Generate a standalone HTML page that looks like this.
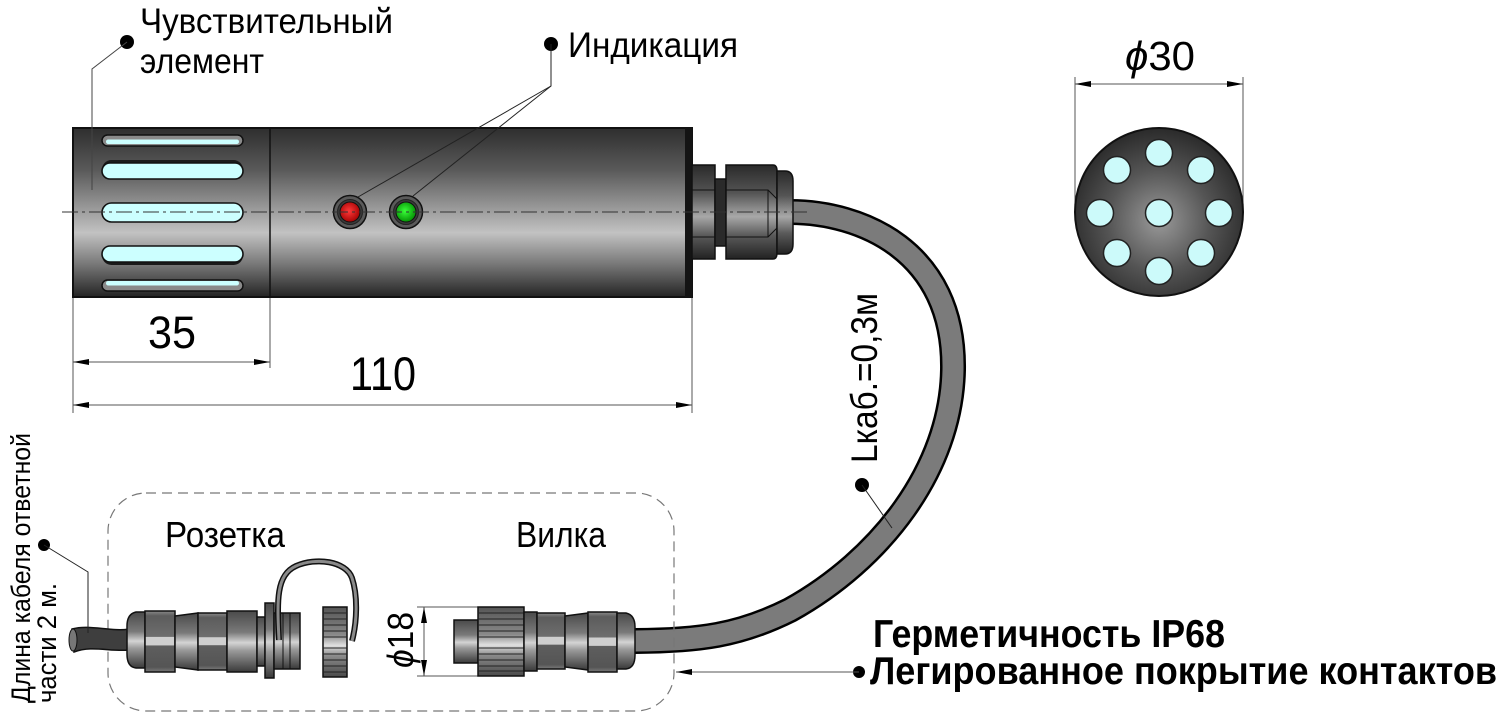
<!DOCTYPE html>
<html><head><meta charset="utf-8">
<style>
html,body{margin:0;padding:0;background:#fff;}
svg{display:block;}
text{font-family:"Liberation Sans","DejaVu Sans",sans-serif;fill:#000;}
.b{font-weight:bold;}
</style></head>
<body>
<svg width="1500" height="714" viewBox="0 0 1500 714" xmlns="http://www.w3.org/2000/svg">
<defs>
<linearGradient id="bodyG" x1="0" y1="0" x2="0" y2="1">
<stop offset="0" stop-color="#2e2e2e"/><stop offset="0.25" stop-color="#5a5a5a"/>
<stop offset="0.62" stop-color="#c2c2c2"/><stop offset="0.8" stop-color="#7a7a7a"/>
<stop offset="1" stop-color="#242424"/></linearGradient>
<linearGradient id="glandG" x1="0" y1="0" x2="0" y2="1">
<stop offset="0" stop-color="#2a2a2a"/><stop offset="0.3" stop-color="#555"/>
<stop offset="0.55" stop-color="#a8a8a8"/><stop offset="0.75" stop-color="#5a5a5a"/>
<stop offset="1" stop-color="#222"/></linearGradient>
<linearGradient id="cg" x1="0" y1="0" x2="0" y2="1">
<stop offset="0" stop-color="#4a4a4a"/><stop offset="0.35" stop-color="#7a7a7a"/>
<stop offset="0.52" stop-color="#d4d4d4"/><stop offset="0.65" stop-color="#9a9a9a"/>
<stop offset="1" stop-color="#3a3a3a"/></linearGradient>
<linearGradient id="nutG" x1="0" y1="0" x2="0" y2="1">
<stop offset="0" stop-color="#8a8a8a"/><stop offset="0.08" stop-color="#5c5c5c"/>
<stop offset="0.42" stop-color="#6e6e6e"/><stop offset="0.43" stop-color="#cfcfcf"/>
<stop offset="0.56" stop-color="#cfcfcf"/><stop offset="0.57" stop-color="#5e5e5e"/>
<stop offset="0.92" stop-color="#555"/><stop offset="1" stop-color="#7a7a7a"/></linearGradient>
<linearGradient id="knG" x1="0" y1="0" x2="0" y2="1">
<stop offset="0" stop-color="#555"/><stop offset="0.4" stop-color="#8a8a8a"/>
<stop offset="0.55" stop-color="#e0e0e0"/><stop offset="0.7" stop-color="#8a8a8a"/>
<stop offset="1" stop-color="#4a4a4a"/></linearGradient>
<radialGradient id="endG" cx="0.5" cy="0.55" r="0.55">
<stop offset="0" stop-color="#9a9a9a"/><stop offset="0.55" stop-color="#555"/>
<stop offset="1" stop-color="#2a2a2a"/></radialGradient>
<radialGradient id="redG" cx="0.45" cy="0.45" r="0.6">
<stop offset="0" stop-color="#ff3a3a"/><stop offset="1" stop-color="#a00000"/></radialGradient>
<radialGradient id="grnG" cx="0.45" cy="0.45" r="0.6">
<stop offset="0" stop-color="#3aff3a"/><stop offset="1" stop-color="#008a00"/></radialGradient>
</defs>

<!-- ===== Top labels ===== -->
<text x="140" y="33" font-size="35" textLength="253" lengthAdjust="spacingAndGlyphs">Чувствительный</text>
<text x="140" y="73" font-size="35" textLength="124" lengthAdjust="spacingAndGlyphs">элемент</text>
<text x="568" y="57" font-size="35" textLength="170" lengthAdjust="spacingAndGlyphs">Индикация</text>

<!-- ===== Cable (under gland) ===== -->
<path d="M790 212 C860 212, 955 250, 953 370 C951 470, 880 560, 790 610 C740 635, 700 641, 630 641" fill="none" stroke="#000" stroke-width="26"/>
<path d="M790 212 C860 212, 955 250, 953 370 C951 470, 880 560, 790 610 C740 635, 700 641, 630 641" fill="none" stroke="#7b7b7b" stroke-width="21"/>

<!-- ===== Main body ===== -->
<rect x="73" y="128" width="619" height="169" fill="url(#bodyG)" stroke="#111" stroke-width="2"/>
<rect x="685" y="128" width="7" height="169" fill="#141414"/>
<line x1="270" y1="128" x2="270" y2="297" stroke="#111" stroke-width="1.5"/>

<!-- slots -->
<rect x="102" y="135" width="141" height="11" rx="5.5" fill="#8a8a8a" stroke="#111" stroke-width="1.5"/>
<rect x="106" y="139.5" width="133" height="4.5" rx="2.2" fill="#ccffff"/>
<rect x="102" y="160" width="141" height="19" rx="9.5" fill="#1a1a1a"/>
<rect x="102" y="163" width="141" height="16" rx="8" fill="#ccffff" stroke="#111" stroke-width="1.6"/>
<rect x="102" y="203" width="141" height="19" rx="9.5" fill="#ccffff" stroke="#111" stroke-width="1.6"/>
<rect x="102" y="246" width="141" height="19" rx="9.5" fill="#1a1a1a"/>
<rect x="102" y="246" width="141" height="16" rx="8" fill="#ccffff" stroke="#111" stroke-width="1.6"/>
<rect x="102" y="280" width="141" height="11" rx="5.5" fill="#8a8a8a" stroke="#111" stroke-width="1.5"/>
<rect x="106" y="281" width="133" height="4.5" rx="2.2" fill="#ccffff"/>

<!-- LEDs -->
<circle cx="350" cy="212" r="16.5" fill="#5a5a5a" stroke="#111" stroke-width="1.5"/>
<circle cx="350" cy="212" r="12.5" fill="#3a3a3a" stroke="#222" stroke-width="1"/>
<circle cx="350" cy="212" r="10" fill="url(#redG)" stroke="#111" stroke-width="1"/>
<circle cx="406" cy="212" r="16.5" fill="#5a5a5a" stroke="#111" stroke-width="1.5"/>
<circle cx="406" cy="212" r="12.5" fill="#3a3a3a" stroke="#222" stroke-width="1"/>
<circle cx="406" cy="212" r="10" fill="url(#grnG)" stroke="#111" stroke-width="1"/>

<!-- gland -->
<rect x="692" y="165" width="23" height="94" fill="url(#glandG)" stroke="#111" stroke-width="1.5"/>
<line x1="692" y1="190" x2="715" y2="190" stroke="#111" stroke-width="1"/>
<line x1="692" y1="237" x2="715" y2="237" stroke="#111" stroke-width="1"/>
<rect x="715" y="179" width="11" height="67" fill="#2a2a2a" stroke="#111" stroke-width="1.5"/>
<path d="M726 165 H773 Q777 165 777 171 V253 Q777 259 773 259 H726 Z" fill="url(#glandG)" stroke="#111" stroke-width="1.5"/>
<polyline points="726,190 768,190 777,199" fill="none" stroke="#111" stroke-width="1"/>
<polyline points="726,237 768,237 777,228" fill="none" stroke="#111" stroke-width="1"/>
<line x1="768" y1="190" x2="768" y2="237" stroke="#111" stroke-width="1"/>
<path d="M777 171 H785 Q793 171 793 181 V244 Q793 254 785 254 H777 Z" fill="url(#glandG)" stroke="#111" stroke-width="1.5"/>

<!-- center line -->
<line x1="62" y1="212" x2="808" y2="212" stroke="#333" stroke-width="1" stroke-dasharray="16 4 3 4"/>

<!-- leaders (on top of body) -->
<circle cx="127" cy="42" r="7" fill="#000"/>
<polyline points="127,42 92,69 92,190" fill="none" stroke="#444" stroke-width="1"/>
<circle cx="551" cy="44" r="7" fill="#000"/>
<polyline points="551,44 551,86 358,197" fill="none" stroke="#222" stroke-width="1"/>
<line x1="551" y1="86" x2="413" y2="196" stroke="#222" stroke-width="1"/>

<!-- ===== Dimensions 35 / 110 ===== -->
<g stroke="#555" stroke-width="1">
<line x1="73" y1="298" x2="73" y2="413"/>
<line x1="270" y1="298" x2="270" y2="368"/>
<line x1="692" y1="298" x2="692" y2="413"/>
<line x1="73" y1="362" x2="270" y2="362"/>
<line x1="73" y1="405" x2="692" y2="405"/>
</g>
<g fill="#000">
<polygon points="73,362 89,359 89,365"/>
<polygon points="270,362 254,359 254,365"/>
<polygon points="73,405 89,402 89,408"/>
<polygon points="692,405 676,402 676,408"/>
</g>
<text x="148" y="348" font-size="45" textLength="48" lengthAdjust="spacingAndGlyphs">35</text>
<text x="350" y="390" font-size="47" textLength="66" lengthAdjust="spacingAndGlyphs">110</text>

<!-- ===== End view ϕ30 ===== -->
<g stroke="#555" stroke-width="1">
<line x1="1075" y1="77" x2="1075" y2="212"/>
<line x1="1243" y1="77" x2="1243" y2="212"/>
<line x1="1075" y1="84" x2="1243" y2="84"/>
</g>
<polygon points="1075,84 1091,81 1091,87" fill="#000"/>
<polygon points="1243,84 1227,81 1227,87" fill="#000"/>
<text x="1125" y="70" font-size="41" textLength="70" lengthAdjust="spacingAndGlyphs"><tspan font-style="italic">ϕ</tspan>30</text>
<circle cx="1159" cy="212" r="84" fill="url(#endG)" stroke="#111" stroke-width="2"/>
<g fill="#ccfafa" stroke="#222" stroke-width="1.5">
<circle cx="1159" cy="213" r="13.5"/>
<circle cx="1159" cy="153" r="13.5"/>
<circle cx="1159" cy="271" r="13.5"/>
<circle cx="1100" cy="213" r="13.5"/>
<circle cx="1219" cy="213" r="13.5"/>
<circle cx="1117" cy="170" r="13.5"/>
<circle cx="1201" cy="170" r="13.5"/>
<circle cx="1117" cy="253" r="13.5"/>
<circle cx="1201" cy="253" r="13.5"/>
</g>

<!-- ===== Cable length label ===== -->
<text transform="translate(877,463) rotate(-90)" font-size="37" textLength="170" lengthAdjust="spacingAndGlyphs">Lкаб.=0,3м</text>
<circle cx="862" cy="485" r="7" fill="#000"/>
<line x1="862" y1="485" x2="892" y2="528" stroke="#222" stroke-width="1"/>

<!-- ===== Dashed box ===== -->
<rect x="108" y="493" width="566" height="218" rx="38" ry="38" fill="none" stroke="#777" stroke-width="1.2" stroke-dasharray="10 6"/>
<text x="165" y="547" font-size="36" textLength="120" lengthAdjust="spacingAndGlyphs">Розетка</text>
<text x="516" y="547" font-size="36" textLength="90" lengthAdjust="spacingAndGlyphs">Вилка</text>

<!-- left cable -->
<path d="M72 629 C90 624, 110 632, 130 629 L130 650 C110 652, 92 645, 74 652 Z" fill="#3e3e3e" stroke="#111" stroke-width="1.5"/>
<ellipse cx="73" cy="640" rx="4" ry="11" fill="#777" stroke="#111" stroke-width="1"/>

<!-- socket -->
<path d="M145 612 L136 612 Q127 614 127 626 L127 654 Q127 667 136 668 L145 668 Z" fill="url(#cg)" stroke="#111" stroke-width="1.5"/>
<rect x="145" y="611" width="30" height="61" fill="url(#nutG)" stroke="#111" stroke-width="1.5"/>
<polygon points="175,616 198,613 198,670 175,667" fill="url(#cg)" stroke="#111" stroke-width="1.5"/>
<rect x="198" y="613" width="29" height="57" fill="url(#nutG)" stroke="#111" stroke-width="1.5"/>
<rect x="227" y="611" width="30" height="61" fill="url(#cg)" stroke="#111" stroke-width="1.5"/>
<rect x="257" y="617" width="8" height="49" fill="url(#cg)" stroke="#111" stroke-width="1.5"/>
<rect x="265" y="603" width="9" height="75" fill="url(#cg)" stroke="#111" stroke-width="1.5"/>
<rect x="274" y="613" width="26" height="56" fill="url(#cg)" stroke="#111" stroke-width="1.5"/>
<line x1="283" y1="613" x2="283" y2="669" stroke="#111" stroke-width="1"/>
<line x1="290" y1="613" x2="290" y2="669" stroke="#111" stroke-width="1"/>
<!-- strap -->
<path d="M279 640 C277 600, 276 575, 296 566 C316 557, 346 561, 352 578 C358 596, 357 622, 352 641" fill="none" stroke="#111" stroke-width="6"/>
<path d="M279 640 C277 600, 276 575, 296 566 C316 557, 346 561, 352 578 C358 596, 357 622, 352 641" fill="none" stroke="#8a8a8a" stroke-width="3"/>
<!-- cap -->
<rect x="323" y="607" width="24" height="70" fill="url(#knG)" stroke="#111" stroke-width="1.5"/>
<g stroke="#222" stroke-width="1">
<line x1="323" y1="613" x2="347" y2="613"/><line x1="323" y1="619" x2="347" y2="619"/>
<line x1="323" y1="625" x2="347" y2="625"/><line x1="323" y1="631" x2="347" y2="631"/>
<line x1="323" y1="637" x2="347" y2="637"/><line x1="323" y1="648" x2="347" y2="648"/>
<line x1="323" y1="654" x2="347" y2="654"/><line x1="323" y1="660" x2="347" y2="660"/>
<line x1="323" y1="666" x2="347" y2="666"/><line x1="323" y1="672" x2="347" y2="672"/>
</g>

<!-- ϕ18 dimension -->
<g stroke="#555" stroke-width="1">
<line x1="417" y1="607" x2="480" y2="607"/>
<line x1="417" y1="676" x2="480" y2="676"/>
<line x1="424" y1="607" x2="424" y2="676"/>
</g>
<polygon points="424,607 421,623 427,623" fill="#000"/>
<polygon points="424,676 421,660 427,660" fill="#000"/>
<text transform="translate(413,668) rotate(-90)" font-size="36" textLength="56" lengthAdjust="spacingAndGlyphs"><tspan font-style="italic">ϕ</tspan>18</text>

<!-- plug -->
<rect x="454" y="620" width="24" height="43" fill="url(#cg)" stroke="#111" stroke-width="1.5"/>
<rect x="478" y="607" width="46" height="69" fill="url(#knG)" stroke="#111" stroke-width="1.5"/>
<g stroke="#222" stroke-width="1">
<line x1="478" y1="613" x2="524" y2="613"/><line x1="478" y1="619" x2="524" y2="619"/>
<line x1="478" y1="625" x2="524" y2="625"/><line x1="478" y1="631" x2="524" y2="631"/>
<line x1="478" y1="637" x2="524" y2="637"/><line x1="478" y1="648" x2="524" y2="648"/>
<line x1="478" y1="654" x2="524" y2="654"/><line x1="478" y1="660" x2="524" y2="660"/>
<line x1="478" y1="666" x2="524" y2="666"/><line x1="478" y1="671" x2="524" y2="671"/>
</g>
<rect x="524" y="612" width="13" height="59" fill="url(#cg)" stroke="#111" stroke-width="1.5"/>
<rect x="537" y="613" width="28" height="56" fill="url(#nutG)" stroke="#111" stroke-width="1.5"/>
<polygon points="565,616 588,613 588,670 565,667" fill="url(#cg)" stroke="#111" stroke-width="1.5"/>
<rect x="588" y="612" width="29" height="60" fill="url(#nutG)" stroke="#111" stroke-width="1.5"/>
<path d="M617 613 L626 613 Q635 615 635 627 L635 655 Q635 668 626 669 L617 669 Z" fill="url(#cg)" stroke="#111" stroke-width="1.5"/>

<!-- left rotated label -->
<text transform="translate(30,703) rotate(-90)" font-size="27" textLength="270" lengthAdjust="spacingAndGlyphs">Длина кабеля ответной</text>
<text transform="translate(56,703) rotate(-90)" font-size="27" textLength="120" lengthAdjust="spacingAndGlyphs">части 2 м.</text>
<circle cx="44" cy="545" r="6" fill="#000"/>
<polyline points="44,545 88,572 88,633" fill="none" stroke="#222" stroke-width="1"/>

<!-- bottom right labels -->
<text class="b" x="873" y="647" font-size="39" textLength="352" lengthAdjust="spacingAndGlyphs">Герметичность IP68</text>
<text class="b" x="870" y="684" font-size="39" textLength="627" lengthAdjust="spacingAndGlyphs">Легированное покрытие контактов</text>
<circle cx="859" cy="672" r="6" fill="#000"/>
<line x1="676" y1="672" x2="859" y2="672" stroke="#555" stroke-width="1"/>
<polygon points="676,672 692,669 692,675" fill="#000"/>
</svg>
</body></html>
